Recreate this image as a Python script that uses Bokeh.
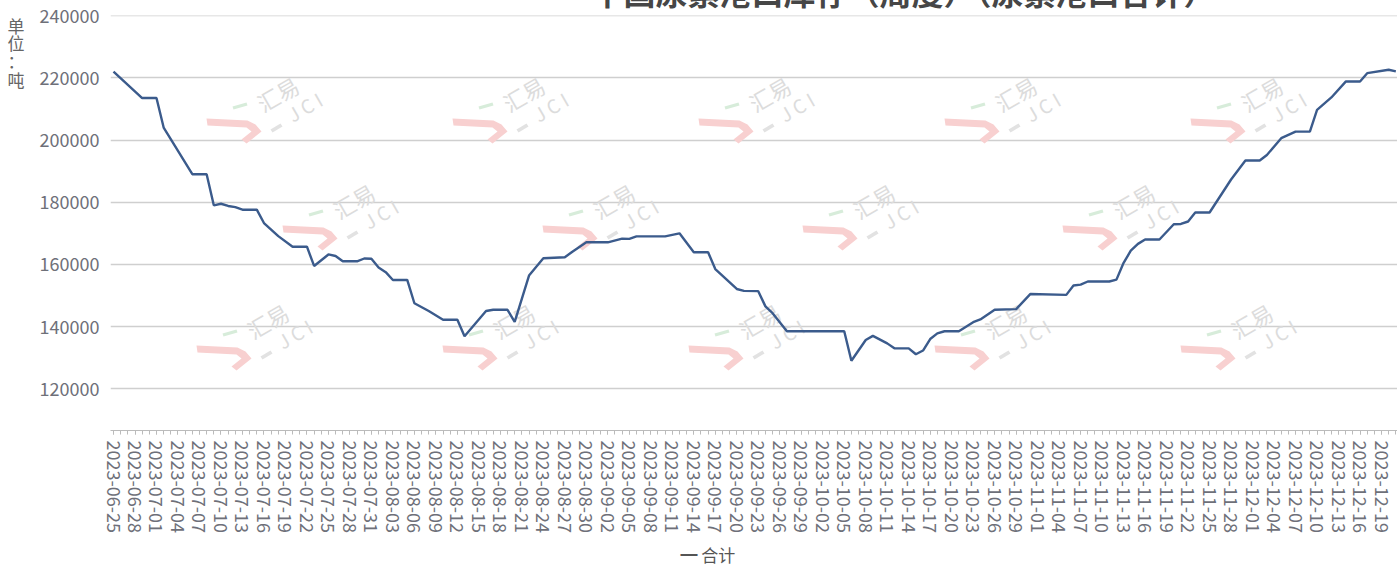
import pandas as pd
from math import pi
from bokeh.plotting import figure
from bokeh.models import (Range1d, FixedTicker, DatetimeTickFormatter, Label, Title,
                          ColumnDataSource, BasicTickFormatter, PolyAnnotation,
                          LinearAxis)
from bokeh.embed import file_html
from bokeh.resources import INLINE

# ---------------- data ----------------
title_text = "中国尿素港口库存（周度）（尿素港口合计）"
y_unit_chars = ["单", "位", "：", "吨"]
series_name = "合计"

dates = [
    "2023-06-25", "2023-06-29", "2023-07-01", "2023-07-02", "2023-07-06", "2023-07-08",
    "2023-07-09", "2023-07-10", "2023-07-11", "2023-07-12", "2023-07-13", "2023-07-15",
    "2023-07-16", "2023-07-18", "2023-07-20", "2023-07-22", "2023-07-23", "2023-07-25",
    "2023-07-26", "2023-07-27", "2023-07-29", "2023-07-30", "2023-07-31", "2023-08-01",
    "2023-08-02", "2023-08-03", "2023-08-05", "2023-08-06", "2023-08-08", "2023-08-10",
    "2023-08-12", "2023-08-13", "2023-08-16", "2023-08-17", "2023-08-19", "2023-08-20",
    "2023-08-22", "2023-08-24", "2023-08-27", "2023-08-28", "2023-08-30", "2023-09-02",
    "2023-09-04", "2023-09-05", "2023-09-06", "2023-09-10", "2023-09-12", "2023-09-14",
    "2023-09-16", "2023-09-17", "2023-09-20", "2023-09-21", "2023-09-23", "2023-09-24",
    "2023-09-25", "2023-09-27", "2023-10-05", "2023-10-06", "2023-10-08", "2023-10-09",
    "2023-10-11", "2023-10-12", "2023-10-14", "2023-10-15", "2023-10-16", "2023-10-17",
    "2023-10-18", "2023-10-19", "2023-10-21", "2023-10-23", "2023-10-24", "2023-10-26",
    "2023-10-29", "2023-10-31", "2023-11-05", "2023-11-06", "2023-11-07", "2023-11-08",
    "2023-11-11", "2023-11-12", "2023-11-13", "2023-11-14", "2023-11-15", "2023-11-16",
    "2023-11-18", "2023-11-20", "2023-11-21", "2023-11-22", "2023-11-23", "2023-11-25",
    "2023-11-28", "2023-11-30", "2023-12-02", "2023-12-03", "2023-12-05", "2023-12-07",
    "2023-12-09", "2023-12-10", "2023-12-12", "2023-12-14", "2023-12-16", "2023-12-17",
    "2023-12-20", "2023-12-21",
]
values = [
    222000, 213500, 213500, 204000, 189000, 189000,
    179000, 179500, 178800, 178400, 177600, 177600,
    173300, 169100, 165700, 165700, 159500, 163200,
    162700, 161000, 161000, 161900, 161800, 159000,
    157500, 155000, 155000, 147500, 145000, 142200,
    142200, 136900, 145000, 145400, 145400, 141500,
    156400, 162000, 162300, 164000, 167100, 167100,
    168300, 168200, 169000, 169000, 170000, 163900,
    163900, 158500, 152100, 151500, 151400, 146500,
    144300, 138500, 138500, 129000, 135700, 137000,
    134600, 133000, 133000, 131100, 132300, 136000,
    137800, 138500, 138500, 141400, 142300, 145400,
    145600, 150500, 150200, 153200, 153500, 154500,
    154500, 155100, 160500, 164400, 166600, 168000,
    168000, 172900, 173000, 173800, 176700, 176700,
    187300, 193400, 193400, 195200, 200600, 202700,
    202700, 209700, 213700, 218800, 218800, 221500,
    222600, 222100,
]
axis_first_day = "2023-06-25"
axis_last_day = "2023-12-21"
label_step_days = 3
y_ticks = [120000, 140000, 160000, 180000, 200000, 220000, 240000]

# ---------------- styling ----------------
FONT = "Noto Sans CJK SC"
LINE_COLOR = "#3B5B8C"
LABEL_COLOR = "#6E7079"

DAY = pd.Timedelta(days=1)
first = pd.Timestamp(axis_first_day)
last = pd.Timestamp(axis_last_day)

Y0, Y1 = 106580, 240050
x_range = Range1d(first - 0.42 * DAY, last + 0.23 * DAY)
y_range = Range1d(Y0, Y1)

# frame geometry in page pixels
FL, FT, FB = 110, 15, 430

p = figure(width=1397, height=628, x_axis_type="datetime",
           x_range=x_range, y_range=y_range,
           output_backend="svg", toolbar_location=None,
           min_border_left=FL, min_border_right=0,
           min_border_top=53, min_border_bottom=160)
p.margin = (-38, 0, -24, 0)
p.outline_line_color = None
p.background_fill_color = "white"
p.border_fill_color = "white"

# title (mostly above the visible window, as in the reference)
title_width = 610
p.title.text = title_text
p.title.align = "left"
p.title.offset = 896 - title_width / 2 - FL
p.title.text_font = FONT
p.title.text_font_size = "32px"
p.title.text_font_style = "bold"
p.title.text_color = "#464646"
p.title.standoff = 4

src = ColumnDataSource(dict(x=pd.to_datetime(dates), y=values))
r = p.line("x", "y", source=src, line_color=LINE_COLOR, line_width=2.4)

# x axis: every day a tick, every 3 days a label
all_days = pd.date_range(first, last, freq="D")
major = [d.value / 1e6 for d in all_days[::label_step_days]]
minor = [d.value / 1e6 for d in all_days]
p.xaxis.ticker = FixedTicker(ticks=major, minor_ticks=minor)
fmt = "%Y-%m-%d"
p.xaxis.formatter = DatetimeTickFormatter(days=fmt, months=fmt, years=fmt, hours=fmt,
                                          minutes=fmt, seconds=fmt, milliseconds=fmt,
                                          microseconds=fmt, minsec=fmt, hourmin=fmt)
p.xaxis.major_label_orientation = -pi / 2
p.xaxis.major_label_text_font = FONT
p.xaxis.major_label_text_font_size = "18px"
p.xaxis.major_label_text_color = LABEL_COLOR
p.xaxis.major_label_standoff = 6
p.xaxis.axis_line_color = "#BBBBBB"
p.xaxis.major_tick_line_color = "#BBBBBB"
p.xaxis.minor_tick_line_color = "#BBBBBB"
p.xaxis.major_tick_out = 4
p.xaxis.minor_tick_out = 4
p.xaxis.major_tick_in = 0
p.xaxis.minor_tick_in = 0
p.xgrid.grid_line_color = None

p.yaxis.ticker = FixedTicker(ticks=y_ticks)
p.yaxis.formatter = BasicTickFormatter(use_scientific=False)
p.yaxis.axis_line_color = None
p.yaxis.major_tick_line_color = None
p.yaxis.minor_tick_line_color = None
p.yaxis.major_label_text_font = FONT
p.yaxis.major_label_text_font_size = "18px"
p.yaxis.major_label_text_color = LABEL_COLOR
p.yaxis.major_label_standoff = 5
p.ygrid.grid_line_color = "#CFCFCF"
p.ygrid.grid_line_width = 1.3

# unit name "单位：吨", upright characters stacked at the top-left (as an extra axis)
per_px = (Y1 - Y0) / (FB - FT)
unit_rows = [25, 42, 60, 79]
unit_ticks = [round(Y1 - (py - FT) * per_px) for py in unit_rows]
unit_axis = LinearAxis(ticker=FixedTicker(ticks=unit_ticks),
                       major_label_overrides={t: c for t, c in zip(unit_ticks, y_unit_chars)},
                       axis_line_color=None, major_tick_line_color=None,
                       minor_tick_line_color=None, major_label_standoff=6,
                       major_label_text_font=FONT, major_label_text_font_size="17px",
                       major_label_text_color="#666666")
p.add_layout(unit_axis, "left")

def sx(px):
    return px - FL

def sy(py):
    return FB - py

def add_shape(pts, cx, cy, color):
    p.add_layout(PolyAnnotation(xs=[sx(cx + a) for a, b in pts],
                                ys=[sy(cy + b) for a, b in pts],
                                xs_units="screen", ys_units="screen",
                                fill_color=color, fill_alpha=1.0,
                                line_color=None, level="underlay"))

# watermarks (faint "汇易 JCI" logos)
hook = [(-71, 25), (-30, 27), (-22, 31), (-16, 38), (-31, 50), (-36, 46),
        (-26, 38), (-31, 34), (-70, 32)]
green_bar = [(-45, 13), (-31, 9), (-30, 12), (-44, 16)]
grey_bar = [(-7, 36), (3, 30), (5, 33), (-5, 39)]

wm_rows = [
    ([277, 523, 769, 1015, 1261], 93),
    ([353, 613, 873, 1133], 200),
    ([267, 513, 759, 1005, 1251], 320),
]
for xs, yy in wm_rows:
    for xx in xs:
        add_shape(hook, xx, yy, "#F8D0D0")
        add_shape(green_bar, xx, yy, "#D7ECDA")
        add_shape(grey_bar, xx, yy, "#E2E2E2")
        for txt, dx, dy, fs in (("汇易", 0, 0, "22px"), ("J C I", 27, 13, "19px")):
            p.add_layout(Label(x=sx(xx + dx), y=sy(yy + dy), x_units="screen",
                               y_units="screen", text=txt, angle=pi / 6,
                               text_align="center", text_baseline="middle",
                               text_font=FONT, text_font_size=fs,
                               text_color="#DCDCDC", level="underlay"))

# legend line at the bottom (icon + series name), below the date labels
p.add_layout(Title(text="━ " + series_name, align="left", offset=680 - FL,
                   text_font=FONT, text_font_size="17px", text_font_style="normal",
                   text_color="#555555", standoff=9), "below")

open("out.html", "w").write(file_html(p, INLINE))
